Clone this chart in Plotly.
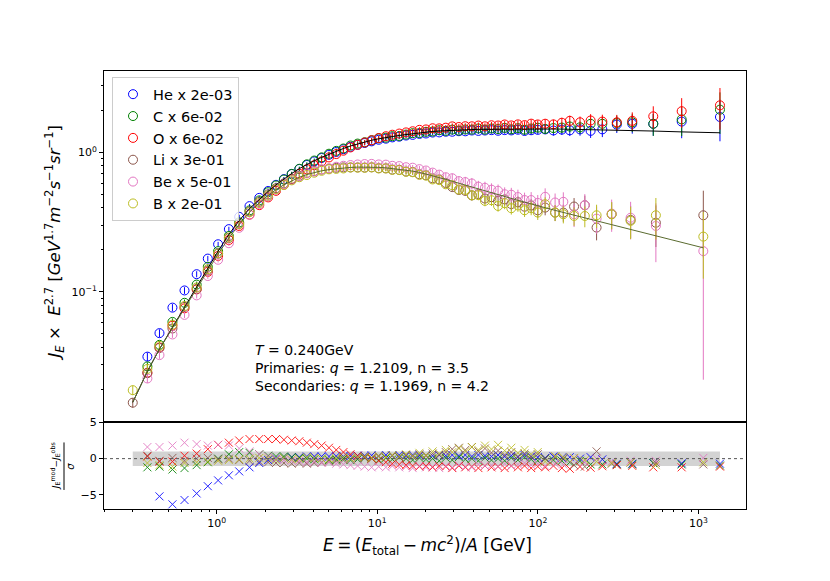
import plotly.graph_objects as go

# ---------------- data ----------------
E_pri = [0.30, 0.37, 0.44, 0.53, 0.63, 0.75, 0.88, 1.02, 1.19, 1.38,
         1.60, 1.84, 2.09, 2.34, 2.62, 2.93, 3.27, 3.64, 4.05, 4.50,
         5.00, 5.55, 6.15, 6.81, 7.54, 8.34, 9.22, 10.2, 11.3, 12.4,
         13.7, 15.1, 16.6, 18.3, 20.1, 22.1, 24.3, 26.7, 29.3, 32.2,
         35.3, 38.8, 42.6, 46.8, 51.4, 56.5, 62.1, 68.3, 75.1, 82.6,
         90.8, 99.8, 111, 125, 141, 158, 183, 213, 252, 310,
         387, 523, 786, 1361]

E_sec = [0.30, 0.37, 0.44, 0.53, 0.63, 0.75, 0.88, 1.02, 1.19, 1.38,
         1.60, 1.84, 2.09, 2.34, 2.62, 2.93, 3.27, 3.64, 4.05, 4.50,
         5.00, 5.55, 6.15, 6.81, 7.54, 8.34, 9.22, 10.2, 11.3, 12.4,
         13.7, 15.1, 16.6, 18.3, 20.1, 22.1, 24.3, 26.7, 29.3, 32.2,
         35.3, 38.8, 42.6, 46.8, 51.4, 56.5, 62.1, 68.3, 75.1, 82.6,
         90.8, 99.8, 111, 128, 144, 168, 196, 232, 288, 378,
         543, 1072]

model_pri = [0.0162, 0.027, 0.039, 0.056, 0.078, 0.108, 0.148, 0.196, 0.258, 0.325,
             0.395, 0.462, 0.525, 0.585, 0.645, 0.705, 0.765, 0.82, 0.87, 0.92,
             0.97, 1.02, 1.065, 1.11, 1.15, 1.185, 1.22, 1.25, 1.278, 1.30,
             1.32, 1.34, 1.36, 1.38, 1.395, 1.41, 1.42, 1.43, 1.44, 1.445,
             1.45, 1.455, 1.46, 1.462, 1.465, 1.467, 1.468, 1.47, 1.47, 1.47,
             1.47, 1.47, 1.47, 1.468, 1.466, 1.463, 1.46, 1.456, 1.45, 1.443,
             1.434, 1.42, 1.40, 1.38]

model_sec = [0.0162, 0.027, 0.039, 0.055, 0.077, 0.105, 0.143, 0.187, 0.243, 0.305,
             0.372, 0.435, 0.49, 0.54, 0.585, 0.627, 0.663, 0.693, 0.717, 0.737,
             0.752, 0.764, 0.773, 0.779, 0.783, 0.785, 0.784, 0.78, 0.774, 0.766,
             0.756, 0.745, 0.733, 0.718, 0.70, 0.68, 0.66, 0.64, 0.62, 0.60,
             0.582, 0.564, 0.546, 0.53, 0.514, 0.498, 0.483, 0.468, 0.453, 0.44,
             0.426, 0.413, 0.401, 0.384, 0.371, 0.355, 0.34, 0.323, 0.304, 0.281,
             0.253, 0.207]

relerr_pri = [0.07, 0.07, 0.065, 0.06, 0.055, 0.05, 0.045, 0.04, 0.04, 0.035,
              0.035, 0.035, 0.035, 0.035, 0.035, 0.035, 0.035, 0.035, 0.035, 0.035,
              0.035, 0.04, 0.04, 0.04, 0.04, 0.04, 0.04, 0.04, 0.04, 0.04,
              0.04, 0.04, 0.04, 0.045, 0.045, 0.045, 0.045, 0.045, 0.05, 0.05,
              0.05, 0.05, 0.05, 0.05, 0.055, 0.055, 0.06, 0.06, 0.065, 0.065,
              0.07, 0.07, 0.075, 0.08, 0.085, 0.09, 0.1, 0.11, 0.12, 0.13,
              0.15, 0.18, 0.24, 0.33]

relerr_sec = [0.08, 0.07, 0.06, 0.055, 0.05, 0.05, 0.045, 0.045, 0.045, 0.04,
              0.04, 0.04, 0.04, 0.04, 0.04, 0.04, 0.04, 0.04, 0.04, 0.04,
              0.04, 0.045, 0.045, 0.045, 0.045, 0.045, 0.045, 0.045, 0.045, 0.045,
              0.045, 0.045, 0.045, 0.05, 0.055, 0.06, 0.06, 0.065, 0.07, 0.07,
              0.075, 0.08, 0.08, 0.085, 0.09, 0.09, 0.095, 0.1, 0.1, 0.105,
              0.11, 0.115, 0.12, 0.13, 0.14, 0.15, 0.17, 0.19, 0.22, 0.26,
              0.33, 0.5]

relerr_Be = [0.08, 0.07, 0.06, 0.055, 0.05, 0.05, 0.045, 0.045, 0.045, 0.04,
             0.04, 0.04, 0.04, 0.04, 0.04, 0.04, 0.04, 0.04, 0.04, 0.04,
             0.04, 0.045, 0.045, 0.045, 0.045, 0.045, 0.045, 0.045, 0.045, 0.045,
             0.045, 0.045, 0.045, 0.055, 0.06, 0.065, 0.07, 0.075, 0.08, 0.085,
             0.09, 0.095, 0.1, 0.105, 0.11, 0.11, 0.12, 0.12, 0.13, 0.13,
             0.14, 0.14, 0.15, 0.16, 0.17, 0.19, 0.2, 0.22, 0.26, 0.3,
             0.45, 0.88]

He = [None, 0.0344, 0.0507, 0.0772, 0.1025, 0.134, 0.1733, 0.2195, 0.2817, 0.345,
      0.4116, 0.4717, 0.5287, 0.585, 0.6427, 0.700, 0.7596, 0.8114, 0.8609, 0.9103,
      0.9598, 1.0057, 1.0522, 1.0945, 1.1316, 1.166, 1.198, 1.23, 1.252, 1.279,
      1.294, 1.319, 1.333, 1.355, 1.364, 1.385, 1.388, 1.404, 1.404, 1.416,
      1.414, 1.433, 1.4235, 1.433, 1.441, 1.427, 1.442, 1.435, 1.451, 1.422,
      1.439, 1.449, 1.459, 1.433, 1.454, 1.437, 1.46, 1.424, 1.46, 1.58,
      1.60, 1.60, 1.66, 1.79]
C = [None, 0.0293, 0.0418, 0.061, 0.0836, 0.1129, 0.1513, 0.196, 0.2518, 0.3148,
     0.384, 0.4523, 0.5177, 0.5789, 0.6382, 0.7001, 0.7623, 0.82, 0.873, 0.92,
     0.9768, 1.024, 1.065, 1.119, 1.155, 1.180, 1.22, 1.26, 1.273, 1.305,
     1.309, 1.34, 1.371, 1.374, 1.401, 1.41, 1.439, 1.424, 1.454, 1.431,
     1.457, 1.455, 1.482, 1.455, 1.481, 1.467, 1.494, 1.461, 1.489, 1.451,
     1.480, 1.501, 1.47, 1.491, 1.503, 1.53, 1.51, 1.60, 1.60, 1.62,
     1.64, 1.60, 1.72, 2.02]
O = [None, 0.0264, 0.040, 0.0573, 0.0763, 0.1042, 0.1393, 0.1811, 0.2353, 0.2966,
     0.3577, 0.4183, 0.4754, 0.5297, 0.5863, 0.6433, 0.7007, 0.7569, 0.8091, 0.862,
     0.9191, 0.971, 1.0267, 1.0834, 1.1316, 1.1755, 1.22, 1.265, 1.3036, 1.3364,
     1.3622, 1.3882, 1.4144, 1.4483, 1.4578, 1.4861, 1.4839, 1.5008, 1.5336, 1.5173,
     1.537, 1.535, 1.5549, 1.5351, 1.5617, 1.5557, 1.5825, 1.5582, 1.5847, 1.5656,
     1.6038, 1.5832, 1.6023, 1.5854, 1.628, 1.68, 1.64, 1.69, 1.66, 1.64,
     1.68, 1.81, 1.97, 2.17]
Li = [0.0161, 0.0262, 0.0397, 0.0547, 0.0782, 0.105, 0.1424, 0.1878, 0.243, 0.3074,
      0.3765, 0.442, 0.4998, 0.553, 0.599, 0.6446, 0.6789, 0.7124, 0.7342, 0.7517,
      0.764, 0.7743, 0.780, 0.779, 0.7795, 0.7779, 0.7805, 0.7695, 0.767, 0.7522,
      0.7492, 0.7282, 0.7231, 0.6965, 0.6846, 0.6514, 0.6402, 0.6026, 0.5636, 0.537,
      0.5296, 0.4918, 0.5023, 0.4669, 0.477, 0.4487, 0.46, 0.4259, 0.4394, 0.4077,
      0.4166, 0.3845, 0.402, 0.37, 0.37, 0.409, 0.418, 0.289, 0.36, 0.328,
      0.313, 0.354]
Be = [None, 0.024, 0.0353, 0.0496, 0.0685, 0.0945, 0.130, 0.170, 0.2233, 0.2879,
      0.3571, 0.4246, 0.4841, 0.54, 0.5897, 0.6345, 0.671, 0.7069, 0.7285, 0.7547,
      0.767, 0.7881, 0.8008, 0.8105, 0.8182, 0.8239, 0.8263, 0.8186, 0.8158, 0.8005,
      0.7968, 0.7819, 0.7759, 0.7575, 0.7404, 0.7156, 0.692, 0.663, 0.652, 0.622,
      0.612, 0.598, 0.568, 0.557, 0.540, 0.530, 0.501, 0.497, 0.478, 0.455,
      0.455, 0.434, 0.48, 0.437, 0.442, 0.36, 0.418, 0.335, 0.364, 0.34,
      0.297, 0.196]
B = [0.0198, 0.0281, 0.0411, 0.0583, 0.0793, 0.1076, 0.1456, 0.1895, 0.2452, 0.3062,
     0.372, 0.4333, 0.49, 0.5443, 0.5827, 0.6295, 0.663, 0.6875, 0.7141, 0.737,
     0.755, 0.7606, 0.766, 0.779, 0.776, 0.7744, 0.7805, 0.766, 0.767, 0.7488,
     0.7458, 0.7249, 0.7198, 0.6893, 0.6808, 0.6392, 0.6323, 0.5901, 0.5809, 0.5412,
     0.5384, 0.4918, 0.4936, 0.4489, 0.4539, 0.4128, 0.4325, 0.3978, 0.4168, 0.3846,
     0.3979, 0.3703, 0.425, 0.37, 0.36, 0.35, 0.35, 0.354, 0.36, 0.323,
     0.354, 0.249]

# residuals (model - obs)/sigma
res_He = [None, -9, -5.2, -6.3, -5.7, -4.8, -3.8, -3.0, -2.3, -1.76,
          -1.2, -0.6, -0.2, 0.0, 0.1, 0.2, 0.2, 0.3, 0.3, 0.3,
          0.3, 0.35, 0.3, 0.35, 0.4, 0.4, 0.45, 0.4, 0.5, 0.4,
          0.5, 0.4, 0.5, 0.4, 0.5, 0.4, 0.5, 0.4, 0.5, 0.4,
          0.5, 0.3, 0.5, 0.4, 0.3, 0.5, 0.3, 0.4, 0.2, 0.5,
          0.3, 0.2, 0.1, 0.3, 0.1, 0.2, 0.0, 0.2, -0.1, -0.7,
          -0.7, -0.6, -0.65, -0.7]
res_C = [None, -1.2, -1.1, -1.5, -1.3, -0.9, -0.5, 0.0, 0.6, 0.9,
         0.8, 0.6, 0.4, 0.3, 0.3, 0.2, 0.1, 0.0, -0.1, 0.0,
         -0.2, -0.1, 0.0, -0.2, -0.1, 0.1, 0.0, -0.2, 0.1, -0.1,
         0.2, 0.0, -0.2, 0.1, -0.1, 0.0, -0.3, 0.1, -0.2, 0.2,
         -0.1, 0.0, -0.3, 0.1, -0.2, 0.0, -0.3, 0.1, -0.2, 0.2,
         -0.1, -0.3, 0.0, -0.2, -0.3, -0.5, -0.3, -0.8, -0.8, -0.8,
         -0.8, -0.6, -0.8, -0.95]
res_O = [None, 0.3, -0.4, -0.4, 0.4, 0.7, 1.3, 1.9, 2.2, 2.5,
         2.7, 2.7, 2.7, 2.7, 2.6, 2.5, 2.4, 2.2, 2.0, 1.8,
         1.5, 1.2, 0.9, 0.6, 0.4, 0.2, 0.0, -0.3, -0.5, -0.7,
         -0.8, -0.9, -1.0, -1.1, -1.0, -1.2, -1.0, -1.1, -1.3, -1.0,
         -1.2, -1.1, -1.3, -1.0, -1.2, -1.1, -1.3, -1.0, -1.2, -1.0,
         -1.3, -1.1, -1.2, -1.0, -1.3, -1.4, -1.1, -1.25, -1.05, -0.9,
         -1.0, -1.2, -1.2, -1.1]
res_Li = [None, 0.4, -0.3, 0.1, -0.3, 0.0, 0.1, -0.1, 0.0, -0.2,
          -0.3, -0.4, -0.5, -0.6, -0.6, -0.7, -0.6, -0.7, -0.6, -0.5,
          -0.4, -0.3, -0.2, 0.0, 0.1, 0.2, 0.1, 0.3, 0.2, 0.4,
          0.2, 0.5, 0.3, 0.6, 0.4, 0.7, 0.5, 0.9, 1.3, 1.5,
          1.2, 1.6, 1.0, 1.4, 0.8, 1.1, 0.5, 0.9, 0.3, 0.7,
          0.2, 0.6, 0.0, 0.3, 0.0, -0.9, -1.1, 1.0, -0.7, -0.55,
          -0.6, -0.8]
res_Be = [None, 1.6, 1.6, 1.8, 2.2, 2.0, 1.8, 1.9, 1.8, 1.4,
          1.0, 0.6, 0.3, 0.0, -0.2, -0.3, -0.3, -0.5, -0.4, -0.6,
          -0.5, -0.7, -0.8, -0.9, -1.0, -1.1, -1.2, -1.1, -1.2, -1.0,
          -1.2, -1.1, -1.3, -1.0, -1.2, -1.1, -1.3, -1.0, -1.2, -0.9,
          -1.1, -1.2, -0.8, -1.0, -0.9, -1.1, -0.7, -1.0, -0.8, -0.6,
          -0.9, -0.7, -1.0, -0.7, -0.8, 0.0, -0.5, 0.0, -0.4, -0.3,
          -0.3, 0.1]
res_B = [None, -0.6, -0.9, -1.1, -0.6, -0.5, -0.4, -0.3, -0.2, -0.1,
         0.0, 0.1, 0.0, -0.2, 0.1, -0.1, 0.0, 0.2, 0.1, 0.0,
         -0.1, 0.1, 0.2, 0.0, 0.2, 0.3, 0.1, 0.4, 0.2, 0.5,
         0.3, 0.6, 0.4, 0.8, 0.5, 1.0, 0.7, 1.2, 0.9, 1.4,
         1.0, 1.6, 1.2, 1.8, 1.3, 1.9, 1.1, 1.5, 0.8, 1.2,
         0.6, 0.9, -0.4, 0.3, 0.2, 0.1, -0.2, -0.4, -0.6, -0.5,
         -0.9, -0.5]

labels = ["He x 2e-03", "C x 6e-02", "O x 6e-02", "Li x 3e-01", "Be x 5e-01", "B x 2e-01"]
colors = ["#0000ff", "#008000", "#ff0000", "#8c564b", "#e377c2", "#bcbd22"]

species = [
    (labels[0], E_pri, He, relerr_pri, res_He, colors[0]),
    (labels[1], E_pri, C, relerr_pri, res_C, colors[1]),
    (labels[2], E_pri, O, relerr_pri, res_O, colors[2]),
    (labels[3], E_sec, Li, relerr_sec, res_Li, colors[3]),
    (labels[4], E_sec, Be, relerr_Be, res_Be, colors[4]),
    (labels[5], E_sec, B, relerr_sec, res_B, colors[5]),
]

FONT = "DejaVu Sans"
fig = go.Figure()

for name, E, obs, rel, res, col in species:
    err = [None if v is None else v * r for v, r in zip(obs, rel)]
    fig.add_trace(go.Scatter(
        x=E, y=obs, mode="markers", name=name,
        marker=dict(symbol="circle-open", size=9, color=col, line=dict(width=1, color=col)),
        error_y=dict(type="data", array=err, color=col, thickness=1, width=0),
        xaxis="x", yaxis="y"))

fig.add_trace(go.Scatter(x=E_pri, y=model_pri, mode="lines", showlegend=False,
                         line=dict(color="black", width=1), xaxis="x", yaxis="y"))
fig.add_trace(go.Scatter(x=E_sec, y=model_sec, mode="lines", showlegend=False,
                         line=dict(color="#5a6b2f", width=1), xaxis="x", yaxis="y"))

for name, E, obs, rel, res, col in species:
    fig.add_trace(go.Scatter(
        x=E, y=res, mode="markers", showlegend=False, opacity=0.85,
        marker=dict(symbol="x-thin-open", size=8, color=col, line=dict(width=1, color=col)),
        xaxis="x2", yaxis="y2"))

xminor = [m * 10 ** k for k in range(-1, 4) for m in range(2, 10)]
yminor = [m * 10 ** k for k in range(-2, 1) for m in range(2, 10)]

XDOM = [104 / 830, 746 / 830]
axis_common = dict(showline=True, linecolor="black", linewidth=1, mirror=True,
                   showgrid=False, zeroline=False, tickfont=dict(family=FONT, size=11, color="black"))

fig.update_layout(
    width=830, height=581,
    margin=dict(l=0, r=0, t=0, b=0),
    paper_bgcolor="white", plot_bgcolor="white",
    font=dict(family=FONT, color="black"),
    xaxis=dict(domain=XDOM, type="log", range=[-0.702, 3.296], anchor="y",
               showticklabels=False, ticks="", **axis_common),
    yaxis=dict(domain=[1 - 420.7 / 581, 1 - 66 / 581], type="log", range=[-1.934, 0.58],
               anchor="x", tickmode="array", tickvals=[0.1, 1],
               ticktext=["10<sup>\u22121</sup>", "10<sup>0</sup>"],
               ticks="outside", ticklen=4, tickcolor="black",
               minor=dict(tickmode="array", tickvals=yminor, ticks="outside", ticklen=2, tickcolor="black"),
               **axis_common),
    xaxis2=dict(domain=XDOM, type="log", range=[-0.702, 3.296], anchor="y2", matches="x",
                tickmode="array", tickvals=[1, 10, 100, 1000],
                ticktext=["10<sup>0</sup>", "10<sup>1</sup>", "10<sup>2</sup>", "10<sup>3</sup>"],
                ticks="outside", ticklen=4, tickcolor="black",
                minor=dict(tickmode="array", tickvals=xminor, ticks="outside", ticklen=2, tickcolor="black"),
                **axis_common),
    yaxis2=dict(domain=[1 - 508.3 / 581, 1 - 420.7 / 581], range=[-6.95, 5.0], anchor="x2",
                tickmode="array", tickvals=[-5, 0, 5], ticktext=["\u22125", "0", "5"],
                ticks="outside", ticklen=4, tickcolor="black", **axis_common),
    legend=dict(x=112 / 830, y=1 - 72 / 581, xanchor="left", yanchor="top",
                bgcolor="rgba(255,255,255,0.8)", bordercolor="#cccccc", borderwidth=1,
                font=dict(family=FONT, size=14.5, color="black")),
    showlegend=True,
)

Emin = min(E_pri[0], E_sec[0])
Emax = max(E_pri[-1], E_sec[-1])
fig.add_shape(type="rect", xref="x2", yref="y2", x0=Emin, x1=Emax, y0=-1, y1=1,
              fillcolor="#d3d3d3", line=dict(width=0), layer="below")
fig.add_shape(type="line", xref="x2 domain", yref="y2", x0=0, x1=1, y0=0, y1=0,
              line=dict(color="#555555", width=1, dash="dot"), layer="above")
# fraction bar of the residual axis label
fig.add_shape(type="line", xref="paper", yref="paper", x0=64 / 830, x1=64 / 830,
              y0=1 - 441 / 581, y1=1 - 489 / 581, line=dict(color="black", width=1))

ann = [
    dict(text="<i>J<sub>E</sub></i> \u00d7  <i>E</i><sup>2.7</sup> [<i>GeV</i><sup>1.7</sup><i>m</i><sup>\u22122</sup><i>s</i><sup>\u22121</sup><i>sr</i><sup>\u22121</sup>]",
         x=54 / 830, y=1 - 240 / 581, textangle=-90, font=dict(size=16.5)),
    dict(text="<i>J</i><sub>E</sub><sup>mod</sup>\u2212<i>J</i><sub>E</sub><sup>obs</sup>",
         x=55 / 830, y=1 - 465 / 581, textangle=-90, font=dict(size=9)),
    dict(text="<i>\u03c3</i>", x=70.5 / 830, y=1 - 465 / 581, textangle=-90, font=dict(size=10)),
    dict(text="<i>E</i>\u2009=\u2009(<i>E</i><sub>total</sub>\u2009\u2212\u2009<i>mc</i><sup>2</sup>)/<i>A</i> [GeV]",
         x=427 / 830, y=1 - 545 / 581, font=dict(size=17)),
    dict(text="<i>T</i> = 0.240GeV", x=252.5 / 830, y=1 - 348 / 581, xanchor="left", font=dict(size=14)),
    dict(text="Primaries: <i>q</i> = 1.2109, n = 3.5", x=252.5 / 830, y=1 - 366 / 581, xanchor="left", font=dict(size=14)),
    dict(text="Secondaries: <i>q</i> = 1.1969, n = 4.2", x=252.5 / 830, y=1 - 383.5 / 581, xanchor="left", font=dict(size=14)),
]
for a in ann:
    a.setdefault("xanchor", "center")
    a["font"] = dict(family=FONT, color="black", **a["font"])
    fig.add_annotation(xref="paper", yref="paper", yanchor="middle", showarrow=False, **a)

fig.write_html("out.html", config={"displayModeBar": False},
               post_script="document.body.style.margin='0';")
